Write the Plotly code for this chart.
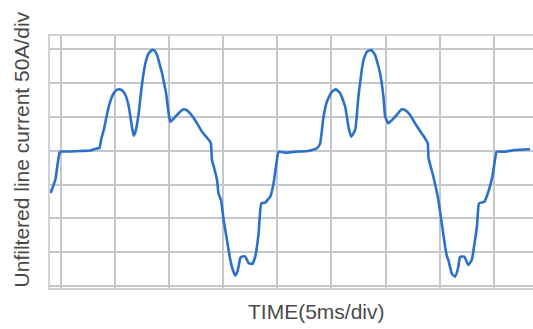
import plotly.graph_objects as go

# Time in ms (5 ms per division), current in A (50 A per division)
time_ms = [-0.92, -0.74, -0.46, -0.28, -0.09, 0.09, 0.92, 1.84, 2.77, 3.32, 3.59, 3.78, 3.99, 4.24, 4.45,
           4.70, 4.91, 5.16, 5.44, 5.71, 5.99, 6.27, 6.45, 6.64, 6.76, 6.91, 7.22, 7.37, 7.53, 7.83,
           8.14, 8.45, 8.66, 8.91, 9.12, 9.37, 9.59, 9.74, 9.91, 10.05, 10.14, 10.60, 11.06, 11.36, 11.61,
           11.82, 12.16, 12.60, 13.06, 13.46, 13.73, 13.87, 13.98, 14.13, 14.44, 14.59, 14.81, 15.05, 15.36,
           15.67, 15.90, 16.13, 16.31, 16.43, 16.59, 16.77, 17.05, 17.35, 17.70, 17.97, 18.28, 18.53, 18.90,
           19.17, 19.36, 19.66, 19.97, 20.12, 20.74, 21.66, 22.89, 23.66, 23.96, 24.27, 24.58, 25.04, 25.41,
           25.81, 26.27, 26.57, 26.82, 27.19, 27.49, 27.96, 28.27, 28.67, 29.03, 29.49, 29.80, 29.96, 30.26,
           30.88, 31.49, 31.80, 32.26, 32.72, 33.18, 33.64, 33.89, 33.96, 34.41, 34.72, 34.87, 35.18, 35.49,
           35.67, 35.79, 36.10, 36.41, 36.71, 36.87, 37.26, 37.63, 37.95, 38.25, 38.44, 38.62, 39.11, 39.48,
           39.85, 40.09, 40.25, 41.01, 41.94, 43.32]
current_a = [-62.6, -55.2, -41.9, -21.2, -3.4, -1.2, -1.2, -0.4, 0.3, 3.3, 4.0, 18.8, 30.6, 49.9, 65.1,
             78.0, 84.9, 89.8, 90.8, 89.1, 82.4, 67.6, 50.3, 30.6, 22.2, 27.7, 55.8, 78.0, 99.7, 129.3,
             144.1, 149.0, 148.2, 141.6, 129.7, 114.9, 97.2, 85.4, 63.2, 48.4, 42.9, 50.3, 58.0, 61.2, 60.2,
             57.7, 51.3, 40.5, 28.1, 20.3, 15.1, 11.4, -13.8, -22.6, -43.3, -64.1, -72.9, -102.5, -132.1,
             -161.7, -176.5, -184.6, -179.4, -171.6, -158.7, -156.5, -156.5, -166.1, -167.6, -156.8, -122.2, -77.8, -76.9,
             -71.5, -68.0, -48.2, -13.8, -1.5, -3.0, -1.5, -0.4, 3.6, 10.9, 50.3, 72.5, 87.3, 90.8,
             84.9, 65.1, 35.5, 20.7, 30.6, 79.9, 134.2, 146.5, 149.0, 141.6, 114.5, 79.9, 50.3, 40.5,
             50.3, 61.2, 60.2, 52.8, 40.5, 29.1, 18.3, 10.9, -10.8, -38.5, -60.7, -72.9, -107.4, -142.0,
             -157.2, -161.7, -181.4, -186.4, -171.6, -156.8, -156.8, -169.1, -161.7, -132.1, -109.9, -77.8, -75.4, -60.7,
             -38.5, -13.8, -1.5, -1.5, 1.0, 2.1]

x_title = "TIME(5ms/div)"
y_title = "Unfiltered line current 50A/div"

fig = go.Figure()
fig.add_trace(go.Scatter(x=time_ms, y=current_a, mode="lines",
                         line=dict(color="#2b70c9", width=2.6, shape="spline", smoothing=0.4),
                         showlegend=False, hoverinfo="skip"))

grid_col = "#c4c7cc"
fig.update_xaxes(range=[-0.97, 43.6], tick0=0, dtick=5, showgrid=True, gridcolor=grid_col, gridwidth=1.5,
                 showticklabels=False, ticks="", zeroline=False,
                 showline=True, linecolor="#d0d3d6", linewidth=2, mirror=True)
fig.update_yaxes(range=[-203.1, 169.7], tick0=0, dtick=50, showgrid=True, gridcolor=grid_col, gridwidth=1.5,
                 showticklabels=False, ticks="", zeroline=False,
                 showline=True, linecolor="#d0d3d6", linewidth=2)

fig.add_annotation(text=y_title, xref="paper", yref="paper", x=-0.06, y=0.55,
                   textangle=-90, showarrow=False, xanchor="center", yanchor="middle",
                   font=dict(family="Liberation Sans, Arial, sans-serif", size=21, color="#4a4a4a"))
fig.add_annotation(text=x_title, xref="paper", yref="paper", x=0.552, y=-0.095,
                   showarrow=False, xanchor="center", yanchor="middle",
                   font=dict(family="Liberation Sans, Arial, sans-serif", size=21, color="#4a4a4a"))

fig.update_layout(width=533, height=329, margin=dict(l=50, r=0, t=36, b=41),
                  plot_bgcolor="white", paper_bgcolor="white")

fig.write_html("out.html", config={"displayModeBar": False},
               post_script="document.body.style.margin='0';")
